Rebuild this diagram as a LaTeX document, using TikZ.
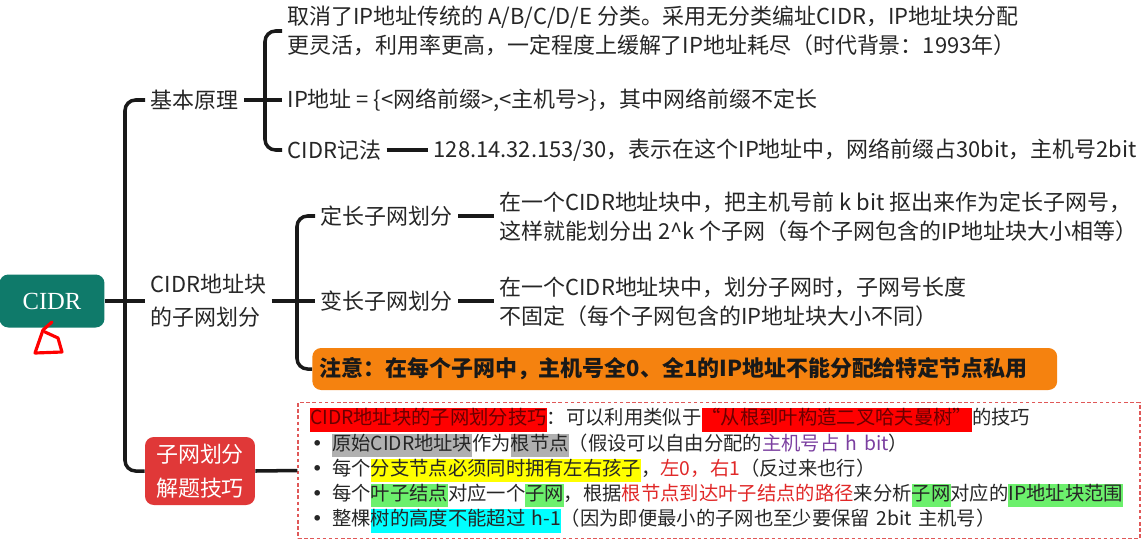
\documentclass[tikz,border=0pt]{standalone}
\usepackage{fontspec}
\setmainfont{Noto Sans CJK SC}
\newfontfamily\rootfont{Liberation Serif}
\newfontfamily\bulfont{DejaVu Sans}
\definecolor{cidrteal}{HTML}{0F7A6A}
\definecolor{notebg}{HTML}{F5820F}
\definecolor{tipred}{HTML}{E03838}
\definecolor{dashred}{HTML}{E05858}
\definecolor{hlred}{HTML}{FF0000}
\definecolor{hldark}{HTML}{6A0000}
\definecolor{hlgray}{HTML}{B0B0B0}
\definecolor{hlyellow}{HTML}{FFFF00}
\definecolor{hlgreen}{HTML}{6CF06C}
\definecolor{hlcyan}{HTML}{00FFFF}
\definecolor{txtpurple}{HTML}{7B3FA0}
\definecolor{txtred}{HTML}{E02828}
\definecolor{txtdark}{HTML}{262626}
\newcommand\mainsz{\fontsize{12.5pt}{16.4pt}\selectfont}
\newcommand\tipsz{\fontsize{11pt}{13.2pt}\selectfont}
\newcommand\hl[2]{{\setlength\fboxsep{0pt}\colorbox{#1}{\strut #2}}}
\newcommand\bul{\makebox[0.44cm][l]{\hspace{0.03cm}{\bulfont •}}}
\tikzset{
  conn/.style={line width=2pt, draw=black!90, rounded corners=6pt},
  lbl/.style={anchor=west, inner xsep=3pt, inner ysep=1pt, font=\mainsz, align=left, text=black!85},
  rootbox/.style={fill=cidrteal, rounded corners=5pt, minimum width=2.1cm, minimum height=1.06cm, text=white, font=\rootfont\fontsize{14pt}{16pt}\selectfont},
  tipbox/.style={fill=tipred, rounded corners=5pt, minimum width=2.2cm, minimum height=1.36cm, text=white, align=center, font=\fontsize{12.5pt}{19.6pt}\selectfont},
  notebox/.style={anchor=west, fill=notebg, rounded corners=5pt, minimum height=0.84cm, inner xsep=0.14cm, text width=14.62cm, align=left, font=\mainsz\bfseries, text=black!90},
  dashbox/.style={draw=dashred, dash pattern=on 2pt off 1.5pt, line width=0.8pt, minimum width=16.84cm, minimum height=2.42cm, inner xsep=0.24cm, text width=16.36cm, align=left, font=\tipsz, text=txtdark}
}
\begin{document}
\begin{tikzpicture}[x=0.02cm,y=-0.02cm]
\useasboundingbox (0,0) rectangle (1144,542);
% root
\node[rootbox] (cidr) at (52,301) {CIDR};
\draw[red, line width=1.8pt, line cap=round, line join=round] (52,322) -- (43,330) -- (35,353) -- (62,352) -- (58,338) -- (45,332);
\coordinate (trunk) at (125,301);
% level 1
\node[lbl] (l1) at (145,100) {基本原理};
\node[lbl, font=\fontsize{12.5pt}{18.7pt}\selectfont] (l2) at (145,301) {CIDR地址块\\的子网划分};
\node[tipbox] (l3) at (200,471) {子网划分\\解题技巧};
\draw[conn] (cidr.east) -- (l2.west);
\draw[conn] (l1.west) -- (l1.west -| trunk) -- (l3.west -| trunk) -- (l3.west);
% basic principle
\coordinate (b1) at (265,100);
\node[lbl] (t1) at (282,31) {取消了IP地址传统的 A/B/C/D/E 分类。采用无分类编址CIDR，IP地址块分配\\更灵活，利用率更高，一定程度上缓解了IP地址耗尽（时代背景：1993年）};
\node[lbl] (t2) at (282,100) {IP地址 = \{<网络前缀>,<主机号>\}，其中网络前缀不定长};
\node[lbl] (t3) at (282,150) {CIDR记法};
\node[lbl] (t3b) at (428,150) {128.14.32.153/30，表示在这个IP地址中，网络前缀占30bit，主机号2bit};
\draw[conn] (l1.east) -- (t2.west);
\draw[conn] (t1.west) -- (t1.west -| b1) -- (t3.west -| b1) -- (t3.west);
\draw[conn] (t3.east) -- (t3b.west);
% subnetting
\coordinate (b2) at (297,301);
\node[lbl] (m1) at (315,216) {定长子网划分};
\node[lbl] (m2) at (315,301) {变长子网划分};
\node[notebox] (note) at (312,369) {注意：在每个子网中，主机号全0、全1的IP地址不能分配给特定节点私用};
\node[lbl] (d1) at (494,217) {在一个CIDR地址块中，把主机号前 k bit 抠出来作为定长子网号，\\这样就能划分出 2\textasciicircum k 个子网（每个子网包含的IP地址块大小相等）};
\node[lbl] (d2) at (494,302) {在一个CIDR地址块中，划分子网时，子网号长度\\不固定（每个子网包含的IP地址块大小不同）};
\draw[conn] (l2.east) -- (m2.west);
\draw[conn] (m1.west) -- (m1.west -| b2) -- (note.west -| b2) -- (note.west);
\draw[conn] (m1.east) -- (m1.east -| d1.west);
\draw[conn] (m2.east) -- (m2.east -| d2.west);
% tips box
\node[dashbox] (tips) at (719,470.5) {%
\hl{hlred}{\textcolor{hldark}{CIDR地址块的子网划分技巧}}：可以利用类似于\hl{hlred}{\textcolor{hldark}{“从根到叶构造二叉哈夫曼树”}}的技巧\\
\bul\hl{hlgray}{原始CIDR地址块}作为\hl{hlgray}{根节点}（假设可以自由分配的\textcolor{txtpurple}{主机号占 h bit}）\\
\bul 每个\hl{hlyellow}{分支节点必须同时拥有左右孩子}，\textcolor{txtred}{左0，右1}（反过来也行）\\
\bul 每个\hl{hlgreen}{叶子结点}对应一个\hl{hlgreen}{子网}，根据\textcolor{txtred}{根节点到达叶子结点的路径}来分析\hl{hlgreen}{子网}对应的\hl{hlgreen}{IP地址块范围}\\
\bul 整棵\hl{hlcyan}{树的高度不能超过 h-1}（因为即便最小的子网也至少要保留 2bit 主机号）};
\draw[conn] (l3.east) -- (tips.west);
\end{tikzpicture}
\end{document}
